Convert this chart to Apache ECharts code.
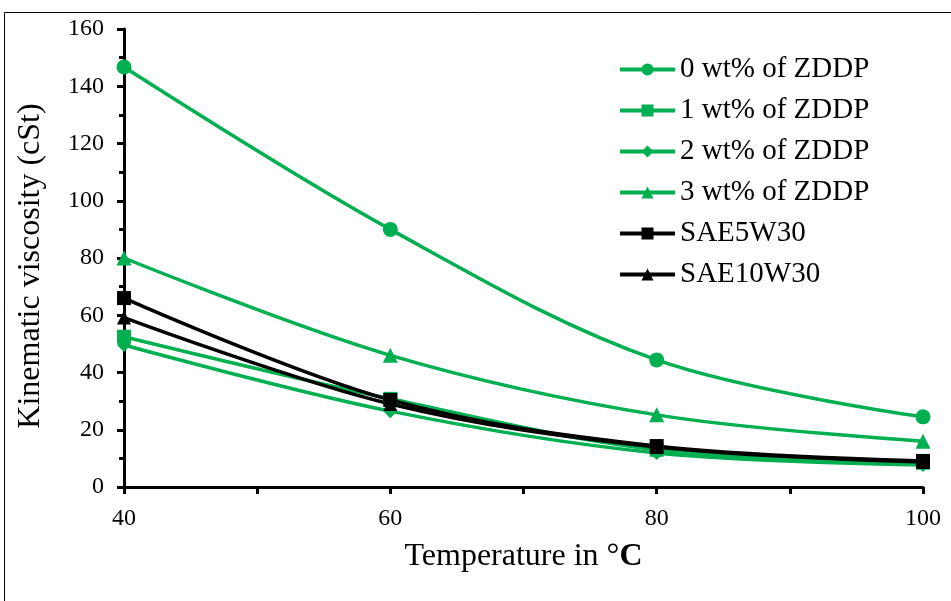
<!DOCTYPE html>
<html>
<head>
<meta charset="utf-8">
<script src="https://cdn.jsdelivr.net/npm/echarts@6/dist/echarts.min.js"></script>
<style>
  html, body { margin: 0; padding: 0; background: #fff; }
  #chart { width: 951px; height: 601px; }
</style>
</head>
<body>
<div id="chart"></div>
<script>
// temperature (°C)
const temps = [40, 60, 80, 100]
const seriesNames = ['0 wt% of ZDDP', '1 wt% of ZDDP', '2 wt% of ZDDP', '3 wt% of ZDDP', 'SAE5W30', 'SAE10W30']
// kinematic viscosity (cSt)
const zddp0 = [146.7, 90.0, 44.4, 24.5]
const zddp1 = [52.5, 30.8, 13.0, 8.5]
const zddp2 = [49.6, 26.5, 11.9, 7.7]
const zddp3 = [80.0, 46.0, 25.2, 16.0]
const sae5w30 = [66.0, 30.4, 14.3, 9.1]
const sae10w30 = [59.2, 29.0, 14.0, 8.7]

const green = '#00B050'
const font = 'Liberation Serif'

function makeSeries(name, values, color, symbol, size) {
  return {
    name: name,
    type: 'line',
    smooth: 0.35,
    data: temps.map((t, i) => [t, values[i]]),
    symbol: symbol,
    symbolSize: size,
    lineStyle: { color: color, width: 3.5 },
    itemStyle: { color: color },
    animation: false
  }
}

const chart = echarts.init(document.getElementById('chart'))
chart.setOption({
  backgroundColor: '#fff',
  textStyle: { fontFamily: font },
  graphic: [{
    type: 'rect',
    shape: { x: 4.5, y: 12.5, width: 960, height: 600 },
    style: { fill: 'none', stroke: '#000', lineWidth: 1 },
    silent: true
  }],
  grid: { left: 124, right: 28, top: 29, bottom: 114 },
  legend: {
    orient: 'vertical',
    left: 618,
    top: 55,
    padding: 0,
    itemWidth: 55,
    itemHeight: 15,
    itemGap: 12,
    data: seriesNames,
    lineStyle: { width: 4 },
    textStyle: { fontFamily: font, fontSize: 29, color: '#000' }
  },
  xAxis: {
    type: 'value',
    min: 40,
    max: 100,
    interval: 20,
    name: 'Temperature in °{b|C}',
    nameLocation: 'middle',
    nameGap: 54,
    nameTextStyle: {
      fontFamily: font, fontSize: 32, color: '#000',
      rich: { b: { fontFamily: font, fontSize: 32, fontWeight: 'bold', color: '#000' } }
    },
    axisLine: { onZero: false, lineStyle: { color: '#000', width: 3 } },
    axisTick: { inside: false, length: 7, lineStyle: { color: '#000', width: 3 } },
    minorTick: { show: true, splitNumber: 2, length: 7, lineStyle: { color: '#000', width: 3 } },
    axisLabel: { fontFamily: font, fontSize: 24, color: '#000', margin: 20 },
    splitLine: { show: false }
  },
  yAxis: {
    type: 'value',
    min: 0,
    max: 160,
    interval: 20,
    name: 'Kinematic viscosity (cSt)',
    nameLocation: 'middle',
    nameGap: 77,
    nameTextStyle: { fontFamily: font, fontSize: 32, color: '#000', padding: [0, 16, 0, 0] },
    axisLine: { show: true, lineStyle: { color: '#000', width: 3 } },
    axisTick: { show: true, inside: false, length: 7, lineStyle: { color: '#000', width: 3 } },
    minorTick: { show: true, splitNumber: 2, length: 5, lineStyle: { color: '#000', width: 3 } },
    axisLabel: { fontFamily: font, fontSize: 24, color: '#000', margin: 20 },
    splitLine: { show: false }
  },
  series: [
    makeSeries(seriesNames[0], zddp0, green, 'circle', 15),
    makeSeries(seriesNames[1], zddp1, green, 'rect', 14),
    makeSeries(seriesNames[2], zddp2, green, 'diamond', 14),
    makeSeries(seriesNames[3], zddp3, green, 'triangle', 15),
    makeSeries(seriesNames[4], sae5w30, '#000', 'rect', 14),
    makeSeries(seriesNames[5], sae10w30, '#000', 'triangle', 14)
  ]
})
</script>
</body>
</html>
